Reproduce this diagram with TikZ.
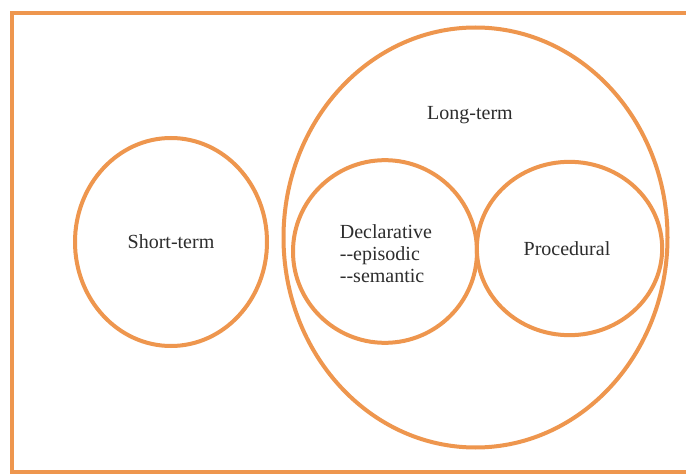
\documentclass[tikz,border=0pt]{standalone}
\usepackage{fontspec}
\setmainfont{Liberation Serif}
\usetikzlibrary{shapes.geometric}
\definecolor{memorange}{RGB}{238,150,78}
\definecolor{memtext}{RGB}{45,45,45}
\begin{document}
\begin{tikzpicture}[x=0.75pt,y=-0.75pt,
    ring/.style={ellipse,draw=memorange,line width=3pt,inner sep=0pt},
    lbl/.style={text=memtext,font=\fontsize{15}{16.5}\selectfont}]
            \useasboundingbox (0,0) rectangle (686,474);
            \clip (0,0) rectangle (686,474);
            \fill[white] (0,0) rectangle (686,474);
            \draw[memorange,line width=3pt] (12,13) rectangle (700,472);
            % memory rings
            \node[ring,minimum width=144pt,minimum height=156pt] (short) at (171,242) {};
            \node[ring,minimum width=288pt,minimum height=315pt] (long) at (475.5,237.5) {};
            \node[ring,minimum width=138pt,minimum height=137pt] (decl) at (385,251.5) {};
            \node[ring,minimum width=139pt,minimum height=130pt] (proc) at (569.5,248.5) {};
            % labels
            \node[lbl] (shortlbl) at (short.center) {Short-term};
            \node[lbl] (longlbl) at (470,115) {Long-term};
            \node[lbl,align=left] (decllbl) at (386,254) {Declarative\\-{}-episodic\\-{}-semantic};
            \node[lbl] (proclbl) at (567,249) {Procedural};
        \end{tikzpicture}
\end{document}
